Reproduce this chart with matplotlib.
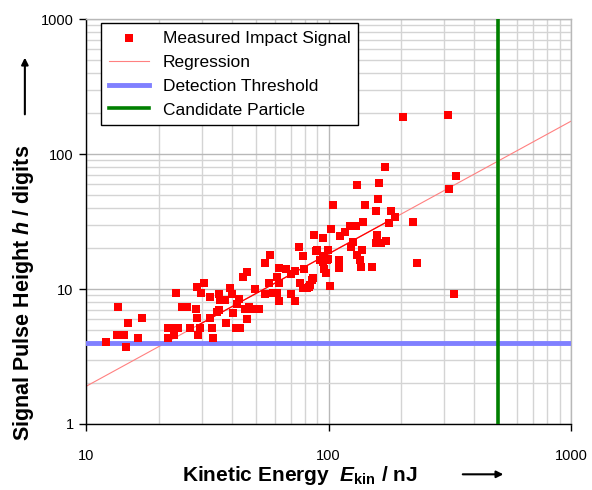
import numpy as np
import matplotlib
matplotlib.use("Agg")
import matplotlib.pyplot as plt
from matplotlib.ticker import LogLocator, FuncFormatter, NullFormatter

plt.rcParams['font.family'] = ['Liberation Sans', 'DejaVu Sans']
plt.rcParams['mathtext.fontset'] = 'custom'
plt.rcParams['mathtext.rm'] = 'Liberation Sans:bold'
plt.rcParams['mathtext.it'] = 'Liberation Sans:italic:bold'
plt.rcParams['mathtext.bf'] = 'Liberation Sans:bold'

# measured impact signals (kinetic energy in nJ, pulse height in digits)
energy = [
    12.1, 13.55, 14.9, 13.4, 14.35, 14.6, 16.4, 17.0, 23.5, 21.8,
    22.4, 23.1, 21.8, 23.9, 24.9, 26.1, 28.4, 28.7, 26.9, 29.5,
    29.0, 28.7, 30.7, 29.8, 32.4, 32.4, 33.1, 33.4, 35.3, 35.7,
    37.4, 39.3, 40.0, 42.8, 42.0, 35.3, 34.7, 37.8, 40.4, 41.6,
    43.2, 46.1, 45.3, 47.0, 48.4, 51.7, 49.8, 44.4, 46.1, 54.7,
    57.4, 56.9, 54.7, 59.0, 61.3, 62.5, 62.5, 61.3, 62.5, 66.8,
    70.0, 72.8, 70.0, 72.8, 79.3, 76.3, 78.5, 81.5, 83.9, 85.5,
    78.5, 75.5, 87.1, 88.8, 92.2, 171, 131, 161.6, 160, 104,
    141.5, 157, 181, 188, 177.6, 223, 138.8, 122.7, 129.8, 117,
    111.5, 102.4, 94.9, 158.5, 157, 164.6, 172.6, 126.2, 123.8, 137.5,
    131.1, 134.9, 136.1, 151.2, 110.5, 110.5, 89.7, 99.5, 94.9, 98.6,
    94.9, 99.5, 97.7, 95.8, 86.3, 83.1, 101.4, 232, 203, 311,
    336, 314, 329,
]
height = [
    4.05, 7.4, 5.6, 4.6, 4.6, 3.7, 4.3, 6.1, 9.3, 5.1,
    5.1, 4.6, 4.3, 5.1, 7.4, 7.4, 7.1, 6.1, 5.1, 5.1,
    4.6, 10.3, 11.1, 9.3, 8.7, 6.1, 5.1, 4.3, 9.2, 8.3,
    8.3, 10.2, 9.2, 8.4, 7.7, 7.0, 6.8, 5.6, 6.6, 5.1,
    5.1, 6.0, 7.1, 7.4, 7.1, 7.1, 10.0, 12.3, 13.4, 15.6,
    17.9, 11.1, 9.2, 9.3, 9.3, 8.2, 14.3, 12.3, 11.1, 14.1,
    12.9, 13.6, 9.2, 8.2, 14.1, 11.1, 10.2, 10.2, 10.7, 11.7,
    17.5, 20.5, 25.1, 19.1, 16.4, 80, 58.9, 61, 46.4, 41.9,
    41.9, 37.8, 37.8, 34.1, 30.8, 31.4, 31.4, 29.3, 29.3, 26.4,
    24.7, 27.8, 23.9, 25.1, 21.9, 21.9, 22.7, 22.3, 20.5, 19.4,
    17.9, 16.4, 14.6, 14.6, 14.3, 16.4, 19.4, 19.4, 17.5, 16.4,
    15.8, 16.7, 13.1, 14.1, 12.1, 10.3, 10.5, 15.6, 188, 194,
    68.7, 55, 9.2,
]

# regression: full extent and fitted range
reg_x = [10, 1000]
reg_y = [1.9, 175]
fit_x = [29, 190]
fit_y = [5.4, 34.2]

threshold = 4
candidate_energy = 500

fig = plt.figure(figsize=(5.92, 4.90), dpi=100)
ax = fig.add_axes([0.1453, 0.1347, 0.8192, 0.8265])

ax.set_xscale('log')
ax.set_yscale('log')
ax.set_xlim(10, 1000)
ax.set_ylim(1, 1000)

ax.grid(True, which='major', color='#b8b8b8', lw=1.0)
ax.grid(True, which='minor', color='#d4d4d4', lw=1.0)
ax.set_axisbelow(True)

ax.plot(reg_x, reg_y, color='#ff8080', lw=0.8, zorder=2, label='Regression')
ax.plot(fit_x, fit_y, color='#ff0000', lw=0.9, zorder=2)
ax.axhline(threshold, color='#8080ff', lw=3.5, zorder=3, label='Detection Threshold')
ax.scatter(energy, height, marker='s', s=30, color='#ff0000', lw=0, zorder=4,
           label='Measured Impact Signal')
ax.axvline(candidate_energy, color='#008000', lw=2.6, zorder=5, label='Candidate Particle')

fmt = FuncFormatter(lambda v, p: '%g' % v)
ax.xaxis.set_major_locator(LogLocator(base=10))
ax.yaxis.set_major_locator(LogLocator(base=10))
ax.xaxis.set_major_formatter(fmt)
ax.yaxis.set_major_formatter(fmt)
ax.xaxis.set_minor_formatter(NullFormatter())
ax.yaxis.set_minor_formatter(NullFormatter())
ax.tick_params(which='major', direction='out', length=5, width=1, labelsize=10.5, pad=4)
ax.tick_params(which='minor', length=0)
ax.tick_params(axis='x', pad=13)

for s in ['left', 'bottom']:
    ax.spines[s].set_color('black')
    ax.spines[s].set_linewidth(1.0)
for s in ['top', 'right']:
    ax.spines[s].set_color('#b8b8b8')
    ax.spines[s].set_linewidth(1.0)

handles, labels = ax.get_legend_handles_labels()
order = [labels.index(n) for n in ['Measured Impact Signal', 'Regression',
                                   'Detection Threshold', 'Candidate Particle']]
leg = ax.legend([handles[i] for i in order], [labels[i] for i in order],
                loc='upper left', bbox_to_anchor=(0.031, 0.99), borderaxespad=0,
                fontsize=12.5, frameon=True, fancybox=False, framealpha=1,
                edgecolor='black', borderpad=0.45, labelspacing=0.5,
                handlelength=2.3, handletextpad=0.8)
leg.get_frame().set_linewidth(1.0)

# axis titles with arrows
fig.text(0.506, 0.018, r'Kinetic Energy  $E_{\rm kin}$ / nJ', ha='center', va='baseline',
         fontsize=15, fontweight='bold')
fig.text(0.040, 0.402, r'Signal Pulse Height $h$ / digits', ha='center', va='center',
         rotation=90, fontsize=15.5, fontweight='bold')
fig.add_artist(matplotlib.patches.FancyArrowPatch(
    (0.777, 0.032), (0.855, 0.032), transform=fig.transFigure,
    arrowstyle='-|>', mutation_scale=10, lw=1.5, color='black'))
fig.add_artist(matplotlib.patches.FancyArrowPatch(
    (0.042, 0.761), (0.042, 0.888), transform=fig.transFigure,
    arrowstyle='-|>', mutation_scale=10, lw=1.5, color='black'))

fig.savefig('out.png', dpi=100)
